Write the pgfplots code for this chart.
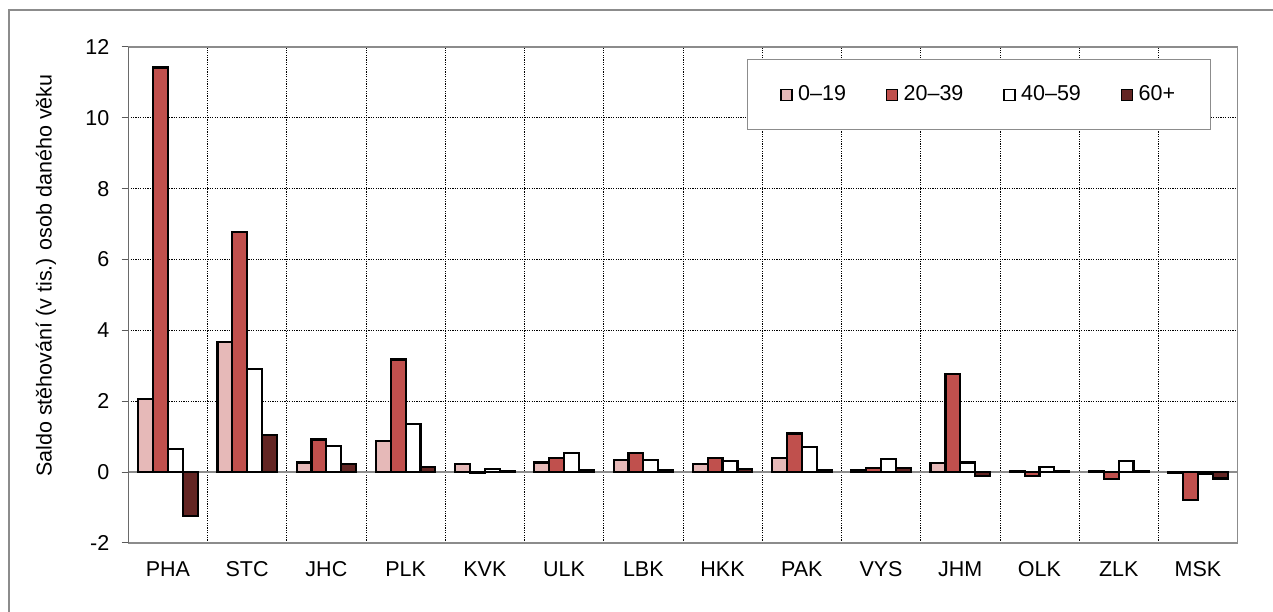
\documentclass[border=0pt]{standalone}
\usepackage{pgfplots}
\pgfplotsset{compat=1.18}
\usepackage{fontspec}
\setmainfont{Liberation Sans}
\definecolor{c1}{HTML}{E6B9B8}
\definecolor{c2}{HTML}{C0504D}
\definecolor{c4}{HTML}{632523}
\definecolor{framegray}{HTML}{8C8C8C}
\definecolor{axisdark}{HTML}{595959}
\newcommand{\chartfont}{\fontsize{21.5}{25}\selectfont}

\begin{document}
\chartfont
\begin{tikzpicture}
\begin{axis}[
    scale only axis,
    width=1109.3pt, height=496pt,
    ybar=0pt, bar width=14.85pt,
    xmin=-0.5, xmax=13.5,
    ymin=-2, ymax=12,
    xtick={0,...,13},
    xticklabels={PHA,STC,JHC,PLK,KVK,ULK,LBK,HKK,PAK,VYS,JHM,OLK,ZLK,MSK},
    minor xtick={0.5,1.5,...,12.5},
    x tick style={draw=none},
    xminorgrids, ymajorgrids,
    grid style={black, line width=0.7pt, dash pattern=on 1.2pt off 1.2pt},
    ytick={-2,0,...,12},
    ytick pos=left,
    tick align=outside,
    major tick length=6.6pt,
    y tick style={draw=axisdark, line width=1pt},
    extra y ticks={0},
    extra y tick labels={},
    extra y tick style={grid=major, major grid style={solid, draw=framegray, line width=1.5pt}},
    axis line style={draw=framegray, line width=1.5pt},
    /pgf/number format/assume math mode=true,
    tick label style={font=\chartfont},
    yticklabel style={xshift=-5pt},
    xticklabel style={yshift=-5pt},
    ylabel={Saldo stěhování (v tis.) osob daného věku},
    every axis y label/.style={at={(axis description cs:-0.0742,0.5393)}, rotate=90, anchor=center, font=\chartfont},
    legend columns=4,
    legend image code/.code={\draw[#1, line width=1.2pt] (0pt,-5.5pt) rectangle (11pt,5.5pt); \path (14pt,0pt);},
    legend style={at={(0.5577,0.9758)}, anchor=north west, draw=framegray, line width=1pt,
        font=\chartfont, inner xsep=33pt, inner ysep=24pt,
        /tikz/every even column/.append style={column sep=38pt}},
    every axis plot/.append style={draw=black, line width=2.2pt},
]
\addplot[fill=c1] coordinates {
(0,2.06) (1,3.68) (2,0.27) (3,0.88) (4,0.22) (5,0.27) (6,0.35)
(7,0.24) (8,0.39) (9,0.07) (10,0.26) (11,0.03) (12,0.02) (13,-0.03)};
\addplot[fill=c2] coordinates {
(0,11.42) (1,6.78) (2,0.92) (3,3.18) (4,-0.03) (5,0.41) (6,0.53)
(7,0.40) (8,1.09) (9,0.12) (10,2.78) (11,-0.10) (12,-0.19) (13,-0.79)};
\addplot[fill=white] coordinates {
(0,0.65) (1,2.92) (2,0.73) (3,1.35) (4,0.08) (5,0.53) (6,0.35)
(7,0.31) (8,0.70) (9,0.38) (10,0.27) (11,0.14) (12,0.31) (13,-0.05)};
\addplot[fill=c4] coordinates {
(0,-1.24) (1,1.04) (2,0.22) (3,0.14) (4,0.04) (5,0.05) (6,0.07)
(7,0.08) (8,0.06) (9,0.12) (10,-0.12) (11,0.02) (12,0.04) (13,-0.18)};
\legend{0–19, 20–39, 40–59, 60+}
\draw[axisdark, line width=1.5pt] (rel axis cs:0,0) -- (rel axis cs:0,1);
\end{axis}
\draw[framegray, line width=1.5pt] (-119.3pt,-90pt) -- (-119.3pt,533pt) -- (1170pt,533pt);
\pgfresetboundingbox
\path[use as bounding box] (-128.3pt,-69pt) rectangle (1144.7pt,543pt);
\end{tikzpicture}
\end{document}
